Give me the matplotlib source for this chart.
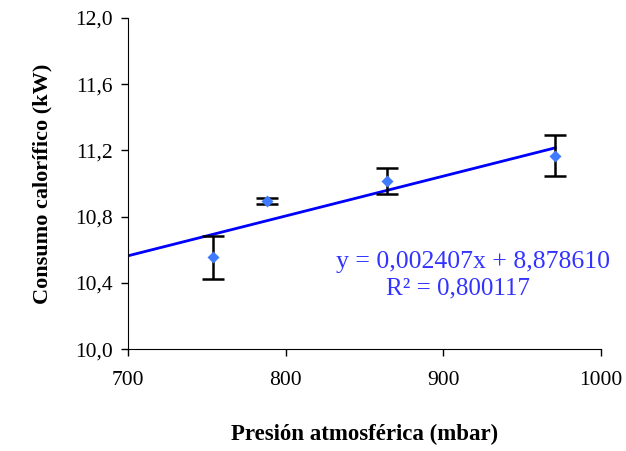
import numpy as np
import matplotlib.pyplot as plt
from matplotlib.ticker import FuncFormatter

# data
presion = [754, 788, 864, 971]
consumo = [10.556, 10.895, 11.017, 11.168]
error = [0.13, 0.02, 0.08, 0.125]
pendiente = 0.002407
ordenada = 8.878610
r2 = 0.800117

plt.rcParams['font.family'] = ['Liberation Serif', 'DejaVu Serif']

fig = plt.figure(figsize=(6.26, 4.51), dpi=100)
ax = fig.add_axes([0.2045, 0.226, 0.7555, 0.734])

xs = np.array([700, max(presion)])
ax.plot(xs, pendiente * xs + ordenada, color='#0000FF', lw=2, zorder=2)
ax.errorbar(presion, consumo, yerr=error, fmt='none', ecolor='black',
            elinewidth=1.8, capsize=8, capthick=1.8, zorder=3)
ax.plot(presion, consumo, 'D', color='#3F7BFF', markersize=6, mec='none', zorder=4)

ax.set_xlim(700, 1000)
ax.set_ylim(10.0, 12.0)
ax.set_xticks([700, 800, 900, 1000])
ax.set_yticks(np.arange(10.0, 12.01, 0.4))
ax.yaxis.set_major_formatter(FuncFormatter(lambda v, p: f'{v:.1f}'.replace('.', ',')))
ax.tick_params(direction='out', length=5, width=1, labelsize=15.5)
ax.tick_params(axis='x', pad=11)
ax.tick_params(axis='y', pad=6)
for s in ['top', 'right']:
    ax.spines[s].set_visible(False)

ax.set_xlabel('Presión atmosférica (mbar)', fontsize=16.5, fontweight='bold', labelpad=24)
ax.set_ylabel('Consumo calorífico (kW)', fontsize=16, fontweight='bold', labelpad=16)

eq = 'y = 0,00%dx + 8,878610' % round(pendiente * 1e6)
ax.text(919, 10.526, eq, color='#3333FF', fontsize=18.5, ha='center', va='center')
ax.text(909, 10.369, 'R² = %s' % f'{r2:.6f}'.replace('.', ','), color='#3333FF',
        fontsize=18, ha='center', va='center')

fig.savefig('out.png', dpi=100)
